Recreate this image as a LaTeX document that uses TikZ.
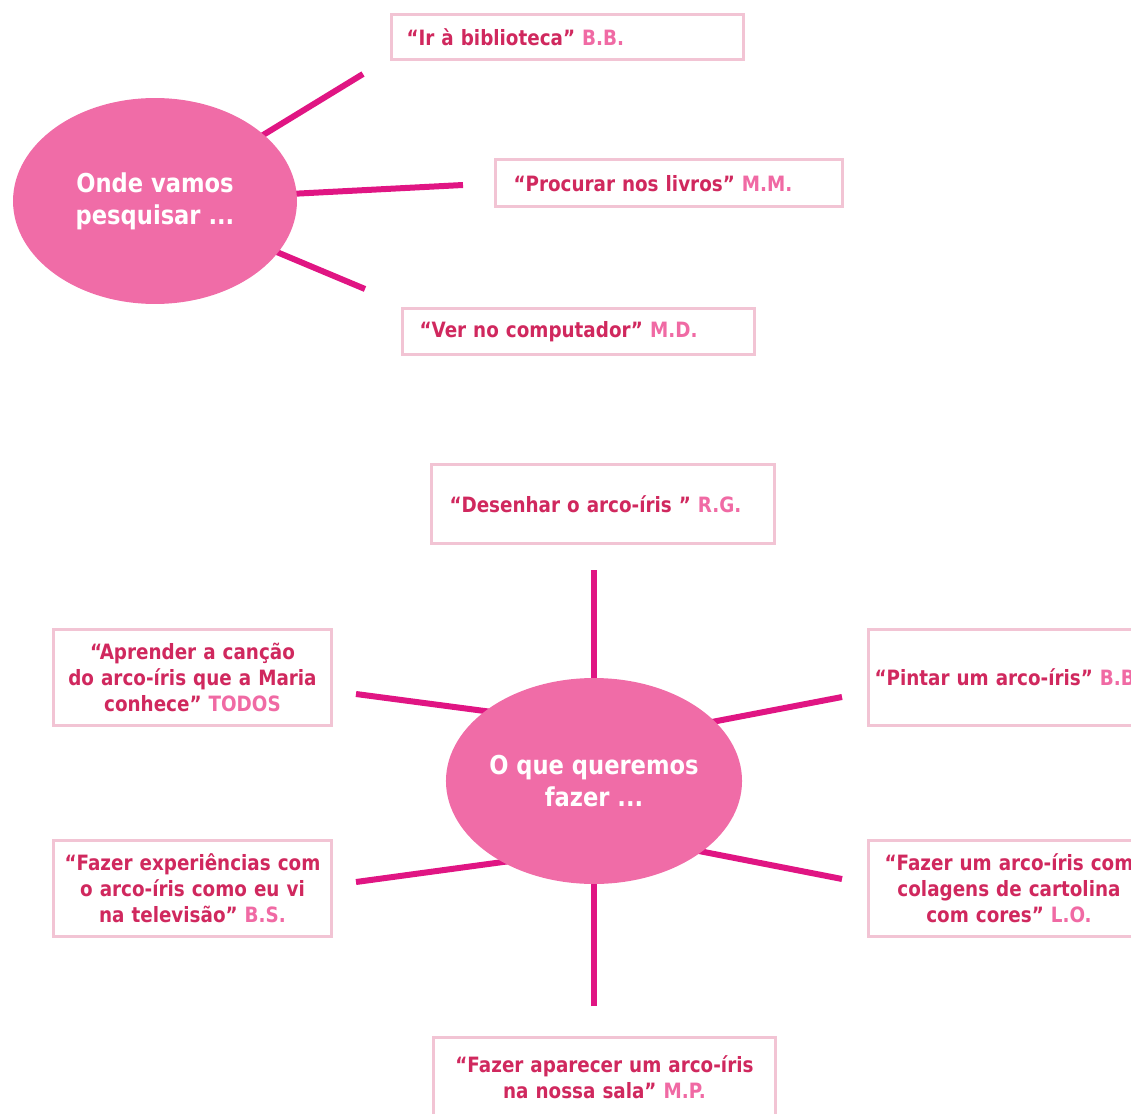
\documentclass[tikz,border=0pt]{standalone}
\usepackage{fontspec}
\setmainfont{DejaVu Sans}[FakeStretch=0.87]
\usetikzlibrary{shapes.geometric}

\definecolor{quotered}{HTML}{D0285E}
\definecolor{namepink}{HTML}{F06AA4}
\definecolor{hubpink}{HTML}{F06CA7}
\definecolor{spokepink}{HTML}{E01583}
\definecolor{boxpink}{HTML}{F2C4D4}

\newcommand{\who}[1]{\textcolor{namepink}{#1}}

\tikzset{
  hub/.style={ellipse, fill=hubpink, text=white, inner sep=0pt,
    minimum width=5.68cm, minimum height=4.12cm, align=center,
    font=\bfseries\fontsize{14.8}{18.2}\selectfont},
  spoke/.style={draw=spokepink, line width=0.12cm},
  idea/.style={draw=boxpink, line width=0.06cm, fill=white, text=quotered,
    anchor=north west, inner ysep=0.1cm,
    font=\bfseries\fontsize{12}{14.8}\selectfont},
  idealeft/.style={idea, align=left},
  ideamid/.style={idea, align=center, inner xsep=0.15cm},
}

\begin{document}
\begin{tikzpicture}[x=0.02cm, y=-0.02cm]
        \clip (0,0) rectangle (1131,1114);

        % Free ends of the spokes
        \coordinate (w1) at (363,74);
        \coordinate (w2) at (463,185);
        \coordinate (w3) at (365,289);
        \coordinate (fTop) at (594,570);
        \coordinate (fBot) at (594,1006);
        \coordinate (fLT) at (356,694);
        \coordinate (fLTin) at (530,717);
        \coordinate (fRT) at (842,697);
        \coordinate (fRTin) at (670,730);
        \coordinate (fLB) at (356,882);
        \coordinate (fLBin) at (547,856);
        \coordinate (fRB) at (842,879);
        \coordinate (fRBin) at (658,843);
        \coordinate (whereC) at (155,201);
        \coordinate (whatC) at (594,781);

        % Spokes (under the ellipses)
        \foreach \p/\q in {w1/whereC, w2/whereC, w3/whereC,
                           fTop/whatC, fBot/whatC,
                           fLT/fLTin, fRT/fRTin, fLB/fLBin, fRB/fRBin}
            \draw[spoke] (\p) -- (\q);

        % Hubs
        \node[hub] (where) at (whereC) {Onde vamos\\pesquisar ...};
        \node[hub] (what) at (whatC) {O que queremos\\fazer ...};

        % Where to search
        \node[idealeft, inner xsep=0.31cm, text width=6.44cm, minimum height=0.90cm]
            (library) at (389.5,13.5) {“Ir à biblioteca” \who{B.B.}};
        \node[idealeft, inner xsep=0.37cm, text width=6.22cm, minimum height=0.94cm]
            (books) at (493.5,158.5) {“Procurar nos livros” \who{M.M.}};
        \node[idealeft, inner xsep=0.35cm, text width=6.36cm, minimum height=0.92cm]
            (computer) at (400.5,307.5) {“Ver no computador” \who{M.D.}};

        % What we want to do
        \node[idealeft, inner xsep=0.37cm, text width=6.14cm, minimum height=1.60cm]
            (draw) at (429.5,462.5) {“Desenhar o arco-íris ” \who{R.G.}};
        \node[idealeft, inner xsep=0.13cm, text width=5.80cm, minimum height=1.94cm]
            (paint) at (866.5,627.5) {“Pintar um arco-íris” \who{B.B.}};
        \node[ideamid, text width=5.28cm, minimum height=1.94cm]
            (song) at (51.5,627.5) {“Aprender a canção\\do arco-íris que a Maria\\conhece” \who{TODOS}};
        \node[ideamid, text width=5.28cm, minimum height=1.94cm]
            (tests) at (51.5,838.5) {“Fazer experiências com\\o arco-íris como eu vi\\na televisão” \who{B.S.}};
        \node[ideamid, text width=5.34cm, minimum height=1.94cm]
            (collage) at (866.5,838.5) {“Fazer um arco-íris com\\colagens de cartolina\\com cores” \who{L.O.}};
        \node[ideamid, text width=6.56cm, minimum height=1.62cm]
            (room) at (431.5,1035.5) {“Fazer aparecer um arco-íris\\na nossa sala” \who{M.P.}};
\end{tikzpicture}
\end{document}
